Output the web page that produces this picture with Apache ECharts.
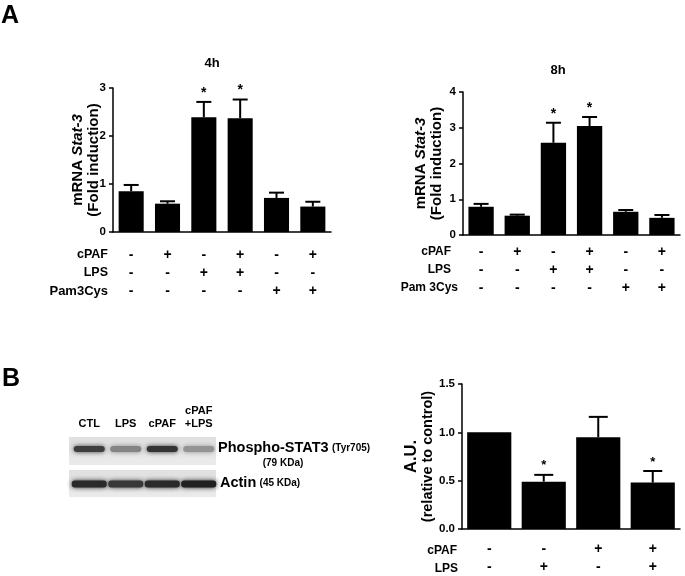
<!DOCTYPE html>
<html>
<head>
<meta charset="utf-8">
<title>Stat-3</title>
<script src="https://cdn.jsdelivr.net/npm/echarts@6/dist/echarts.min.js"></script>
<style>
  *{margin:0;padding:0;}
  body{background:#fff;}
  #main{width:685px;height:576px;}
</style>
</head>
<body>
<div id="main"></div>
<script>
// panel A
var groups6 = ['g1', 'g2', 'g3', 'g4', 'g5', 'g6'];
var cpaf6 = ['-', '+', '-', '+', '-', '+'];
var lps6 = ['-', '-', '+', '+', '-', '-'];
var pam6 = ['-', '-', '-', '-', '+', '+'];
var mean4h = [0.85, 0.59, 2.39, 2.37, 0.71, 0.53];
var sem4h = [0.13, 0.05, 0.32, 0.39, 0.11, 0.10];
var sig4h = [0, 0, 1, 1, 0, 0];
var mean8h = [0.79, 0.54, 2.58, 3.05, 0.65, 0.48];
var sem8h = [0.08, 0.03, 0.56, 0.25, 0.05, 0.08];
var sig8h = [0, 0, 1, 1, 0, 0];
// panel B
var lanes = ['CTL', 'LPS', 'cPAF', 'cPAF\n+LPS'];
var cpafB = ['-', '-', '+', '+'];
var lpsB = ['-', '+', '-', '+'];
var meanB = [1.0, 0.49, 0.95, 0.48];
var semB = [0, 0.07, 0.21, 0.12];
var sigB = [0, 1, 0, 1];
var pstat3Band = [0.85, 0.5, 0.9, 0.42];
var actinBand = [0.95, 0.88, 0.95, 1.0];

var FONT = '"Liberation Sans", Arial, sans-serif';
var myChart = echarts.init(document.getElementById('main'));

function errItem(capW, starGap, starSize) {
    return function (params, api) {
        var m = api.value(1), e = api.value(2), s = api.value(3);
        var base = api.coord([api.value(0), m]);
        var tip = api.coord([api.value(0), m + e]);
        var ch = [];
        if (e > 0) {
            ch.push({type: 'line', shape: {x1: base[0], y1: base[1], x2: tip[0], y2: tip[1]},
                style: {stroke: '#000', lineWidth: 2}});
            ch.push({type: 'line', shape: {x1: tip[0] - capW / 2, y1: tip[1], x2: tip[0] + capW / 2, y2: tip[1]},
                style: {stroke: '#000', lineWidth: 2}});
        }
        if (s) {
            ch.push({type: 'text', x: tip[0], y: tip[1] - starGap,
                style: {text: '*', align: 'center', verticalAlign: 'middle',
                    font: 'bold ' + starSize + 'px ' + FONT, fill: '#000'}});
        }
        return {type: 'group', children: ch};
    };
}

function yAx(idx, max, step, gap, name, nameSize, fmt) {
    return {
        type: 'value', gridIndex: idx, min: 0, max: max, interval: step,
        name: name, nameLocation: 'middle', nameRotate: 90, nameGap: gap,
        nameMoveOverlap: false,
        nameTextStyle: {
            color: '#000',
            rich: {
                a: {fontFamily: FONT, fontWeight: 'bold', fontSize: nameSize, lineHeight: nameSize + 1, color: '#000'},
                i: {fontFamily: FONT, fontWeight: 'bold', fontStyle: 'italic', fontSize: nameSize, lineHeight: nameSize + 1, color: '#000'},
                big: {fontFamily: FONT, fontWeight: 'bold', fontSize: nameSize + 2, lineHeight: nameSize + 3, color: '#000'}
            }
        },
        axisLine: {show: true, lineStyle: {color: '#000', width: 1.5}},
        axisTick: {show: true, length: 4, lineStyle: {color: '#000', width: 1.5}},
        splitLine: {show: false},
        axisLabel: {color: '#000', fontFamily: FONT, fontWeight: 'bold', fontSize: 11.5, margin: 7,
            formatter: fmt || function (v) { return v; }}
    };
}

function xAx(idx, cats, rows, margin) {
    return {
        type: 'category', gridIndex: idx, data: cats,
        axisLine: {show: true, lineStyle: {color: '#000', width: 1.5}},
        axisTick: {show: false},
        axisLabel: {
            interval: 0, margin: margin, color: '#000', fontFamily: FONT, fontWeight: 'bold',
            fontSize: 14, lineHeight: 18,
            formatter: function (v, i) {
                return rows.map(function (r) { return r[i]; }).join('\n');
            }
        }
    };
}

function barSeries(idx, vals, w) {
    return {type: 'bar', xAxisIndex: idx, yAxisIndex: idx, data: vals, barWidth: w,
        itemStyle: {color: '#000'}, silent: true};
}

function errSeries(idx, vals, sem, sig, capW, starGap, starSize) {
    return {type: 'custom', xAxisIndex: idx, yAxisIndex: idx, z: 5, silent: true,
        renderItem: errItem(capW, starGap, starSize),
        data: vals.map(function (v, i) { return [i, v, sem[i], sig[i]]; })};
}

function txt(x, y, s, size, align, extra) {
    var st = {text: s, x: x, y: y, fill: '#000', align: align || 'left', verticalAlign: 'middle',
        font: 'bold ' + size + 'px ' + FONT};
    if (extra) for (var k in extra) st[k] = extra[k];
    return {type: 'text', style: st};
}

// western blot picture (panel B, left)
var blotX = 69, laneW = 36.5, blotW = 147;
var blot = [];
[[437, 465, pstat3Band, 449, 31, 6], [470, 497, actinBand, 484, 35, 7]].forEach(function (b) {
    blot.push({type: 'rect', shape: {x: blotX, y: b[0], width: blotW, height: b[1] - b[0]},
        style: {fill: {type: 'linear', x: 0, y: 0, x2: 0, y2: 1, colorStops: [
            {offset: 0, color: '#e0e0e0'}, {offset: 1, color: '#ebebeb'}]}}});
    b[2].forEach(function (v, i) {
        var g = Math.round(232 - 200 * v);
        var c = 'rgb(' + g + ',' + g + ',' + g + ')';
        blot.push({type: 'rect', shape: {x: blotX + 2 + (i + 0.5) * laneW - b[4] / 2, y: b[3] - b[5] / 2,
            width: b[4], height: b[5], r: 3},
            style: {fill: c, shadowBlur: 5, shadowColor: c}});
    });
});
lanes.forEach(function (l, i) {
    var cx = blotX + 2 + (i + 0.5) * laneW;
    var n = l.split('\n').length;
    blot.push(txt(cx, 424 - (n - 1) * 6.5, l, 11, 'center', {lineHeight: 13}));
});
blot.push({type: 'text', style: {x: 218, y: 448, verticalAlign: 'middle', fill: '#000',
    text: '{a|Phospho-STAT3} {b|(Tyr705)}',
    rich: {a: {fontFamily: FONT, fontWeight: 'bold', fontSize: 14.5}, b: {fontFamily: FONT, fontWeight: 'bold', fontSize: 10}}}});
blot.push(txt(283, 463, '(79 KDa)', 10, 'center'));
blot.push({type: 'text', style: {x: 220, y: 483, verticalAlign: 'middle', fill: '#000',
    text: '{a|Actin} {b|(45 KDa)}',
    rich: {a: {fontFamily: FONT, fontWeight: 'bold', fontSize: 14.5}, b: {fontFamily: FONT, fontWeight: 'bold', fontSize: 10}}}});

var option = {
    backgroundColor: '#fff',
    animation: false,
    grid: [
        {left: 113, top: 88, width: 218, height: 144},
        {left: 463, top: 92, width: 217, height: 143},
        {left: 462, top: 384, width: 218, height: 147}
    ],
    xAxis: [
        xAx(0, groups6, [cpaf6, lps6, pam6], 14),
        xAx(1, groups6, [cpaf6, lps6, pam6], 8),
        xAx(2, lanes, [cpafB, lpsB], 11)
    ],
    yAxis: [
        yAx(0, 3, 1, 11, '{a|mRNA }{i|Stat-3}\n{a|(Fold induction)}', 15),
        yAx(1, 4, 1, 18, '{a|mRNA }{i|Stat-3}\n{a|(Fold induction)}', 15),
        yAx(2, 1.5, 0.5, 26, '{big|A.U.}\n{a|(relative to control)}', 14.5, function (v) { return v.toFixed(1); })
    ],
    series: [
        barSeries(0, mean4h, '69%'),
        errSeries(0, mean4h, sem4h, sig4h, 15, 9, 14),
        barSeries(1, mean8h, '70%'),
        errSeries(1, mean8h, sem8h, sig8h, 15, 9, 14),
        barSeries(2, meanB, '81%'),
        errSeries(2, meanB, semB, sigB, 19, 9, 13)
    ],
    graphic: [
        txt(1, 16, 'A', 25),
        txt(2, 379, 'B', 25),
        txt(212, 63, '4h', 13, 'center'),
        txt(558, 70, '8h', 13, 'center'),
        txt(108, 255, 'cPAF', 12.5, 'right'),
        txt(108, 273, 'LPS', 12.5, 'right'),
        txt(108, 291, 'Pam3Cys', 13, 'right'),
        txt(451, 252, 'cPAF', 12, 'right'),
        txt(451, 270, 'LPS', 12, 'right'),
        txt(458, 288, 'Pam 3Cys', 12, 'right'),
        txt(457, 551, 'cPAF', 12, 'right'),
        txt(458, 569, 'LPS', 12, 'right')
    ].concat(blot)
};

myChart.setOption(option);
</script>
</body>
</html>
